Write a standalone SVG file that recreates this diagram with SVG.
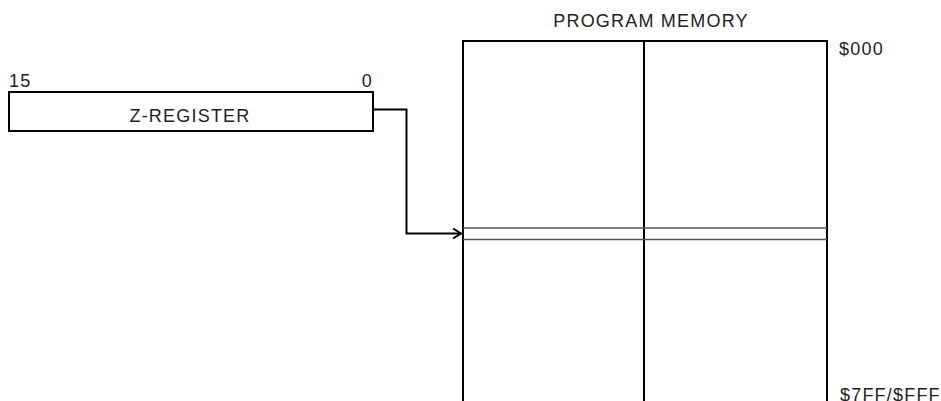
<svg xmlns="http://www.w3.org/2000/svg" width="941" height="401" viewBox="0 0 941 401">
<style>
.t{font-family:"Liberation Sans",Arial,sans-serif;font-size:18px;fill:#222;letter-spacing:1.2px}
.box{fill:#fff;stroke:#000;stroke-width:2}
.ln{fill:none;stroke:#000;stroke-width:2}
.dl{fill:none;stroke:#555;stroke-width:1.6}
</style>
<defs>
<marker id="ah" markerWidth="12" markerHeight="12" refX="10" refY="6" orient="auto" markerUnits="userSpaceOnUse">
<path d="M2,1 L10,6 L2,11" fill="none" stroke="#000" stroke-width="2"/>
</marker>
</defs>
<rect width="941" height="401" fill="#fff"/>
<g id="z-register">
<rect class="box" x="9" y="92" width="364" height="39"/>
<text class="t" x="9" y="87">15</text>
<text class="t" x="373" y="87" text-anchor="end">0</text>
<text class="t" x="190" y="122" text-anchor="middle">Z-REGISTER</text>
</g>
<g id="program-memory">
<text class="t" x="651" y="27" text-anchor="middle">PROGRAM MEMORY</text>
<path class="ln" d="M463,402 V41 H827 V402"/>
<line class="ln" x1="644" y1="41" x2="644" y2="402"/>
<line class="dl" x1="463" y1="228" x2="827" y2="228"/>
<line class="dl" x1="463" y1="239.5" x2="827" y2="239.5"/>
<text class="t" x="839" y="55">$000</text>
<text class="t" x="840" y="401">$7FF/$FFF</text>
</g>
<g id="connectors">
<path class="ln" d="M373,109.5 H406.5 V233.5 H461" marker-end="url(#ah)"/>
</g>
</svg>
